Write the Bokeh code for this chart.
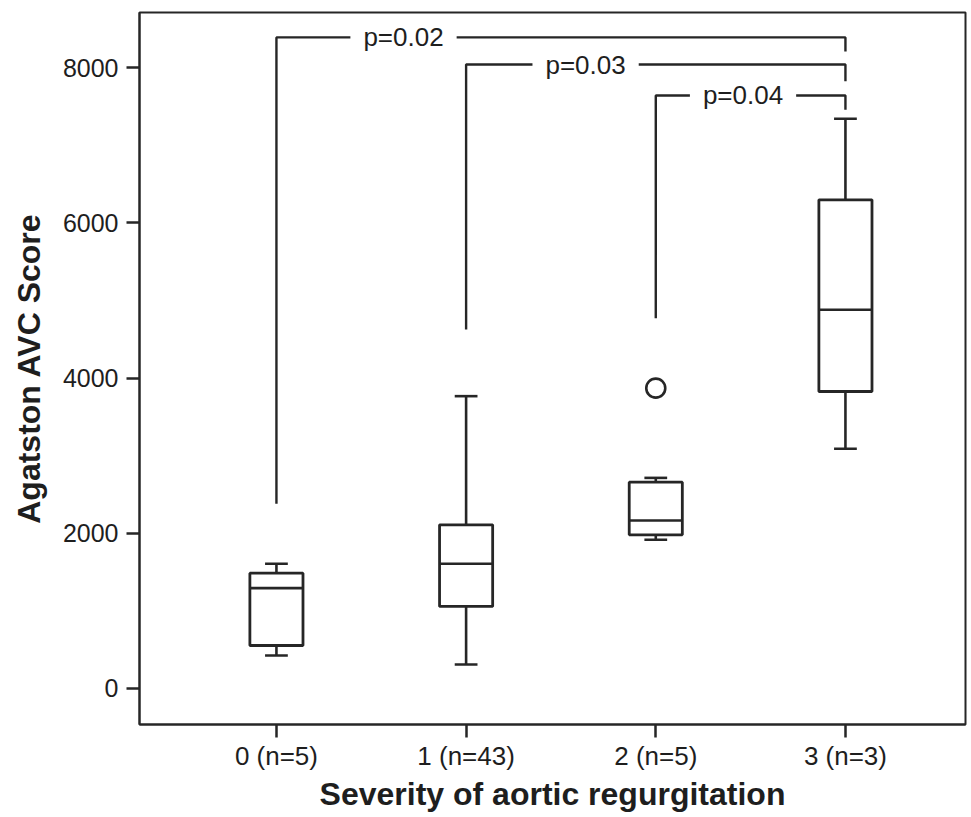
from bokeh.plotting import figure
from bokeh.models import Range1d, FixedTicker, Label, ColumnDataSource
from bokeh.embed import file_html
from bokeh.resources import INLINE

# ---- data ----
groups = [0, 1, 2, 3]
tick_labels = ["0 (n=5)", "1 (n=43)", "2 (n=5)", "3 (n=3)"]
whisk_low = [425, 309, 1916, 3089]
q1 = [554, 1057, 1980, 3827]
median = [1293, 1607, 2165, 4880]
q3 = [1486, 2109, 2659, 6297]
whisk_high = [1607, 3767, 2714, 7341]
outlier_x = [2]
outlier_y = [3870]

# significance brackets
br_left = [0, 1, 2]
br_right = [3, 3, 3]
br_left_foot = [2380, 4626, 4772]
br_height = [8390, 8040, 7642]
br_right_foot = [8210, 7826, 7457]
br_label = ["p=0.02", "p=0.03", "p=0.04"]
br_label_x = [0.67, 1.63, 2.46]

LINE = "#262626"
TEXT = "#1e1e1e"
FONT = "Liberation Sans"

p = figure(width=971, height=817, output_backend="svg", toolbar_location=None,
           x_range=Range1d(-0.722, 3.633), y_range=Range1d(-464, 8711),
           min_border_left=139, min_border_right=6, min_border_top=12, min_border_bottom=93)

p.grid.visible = False
p.outline_line_color = LINE
p.outline_line_width = 2
p.background_fill_color = "white"
p.border_fill_color = "white"

p.xaxis.ticker = FixedTicker(ticks=groups)
p.xaxis.major_label_overrides = {g: t for g, t in zip(groups, tick_labels)}
p.yaxis.ticker = FixedTicker(ticks=[0, 2000, 4000, 6000, 8000])
for ax in (p.xaxis[0], p.yaxis[0]):
    ax.axis_line_color = LINE
    ax.axis_line_width = 2
    ax.major_tick_line_color = LINE
    ax.major_tick_line_width = 2.5
    ax.major_tick_out = 13
    ax.major_tick_in = 0
    ax.minor_tick_line_color = None
    ax.major_label_text_font = FONT
    ax.major_label_text_color = TEXT
    ax.axis_label_text_font = FONT
    ax.axis_label_text_font_style = "bold"
    ax.axis_label_text_color = TEXT
    ax.axis_label_text_font_size = "32px"

p.xaxis.major_label_text_font_size = "26px"
p.yaxis.major_label_text_font_size = "25px"
p.xaxis.major_label_standoff = 3
p.xaxis.axis_label = "Severity of aortic regurgitation"
p.xaxis.axis_label_standoff = 2
p.yaxis.major_label_standoff = 8
p.yaxis.axis_label = "Agatston AVC Score"
p.yaxis.axis_label_standoff = 13

src = ColumnDataSource(dict(x=groups, lo=whisk_low, q1=q1, med=median, q3=q3, hi=whisk_high))
src.data["left"] = [g - 0.14 for g in groups]
src.data["right"] = [g + 0.14 for g in groups]
src.data["cl"] = [g - 0.06 for g in groups]
src.data["cr"] = [g + 0.06 for g in groups]

W = 2.6
p.segment(x0="x", y0="q3", x1="x", y1="hi", source=src, line_color=LINE, line_width=W)
p.segment(x0="x", y0="q1", x1="x", y1="lo", source=src, line_color=LINE, line_width=W)
p.segment(x0="cl", y0="hi", x1="cr", y1="hi", source=src, line_color=LINE, line_width=W)
p.segment(x0="cl", y0="lo", x1="cr", y1="lo", source=src, line_color=LINE, line_width=W)
p.quad(left="left", right="right", bottom="q1", top="q3", source=src,
       fill_color="white", line_color=LINE, line_width=2.8)
p.segment(x0="left", y0="med", x1="right", y1="med", source=src, line_color=LINE, line_width=W)
p.scatter(outlier_x, outlier_y, marker="circle", size=19, fill_color="white",
          line_color=LINE, line_width=2.6)

xs, ys = [], []
for l, r, lf, h, rf in zip(br_left, br_right, br_left_foot, br_height, br_right_foot):
    xs.append([l, l, r, r])
    ys.append([lf, h, h, rf])
p.multi_line(xs, ys, line_color=LINE, line_width=2.4)

for lx, h, lab in zip(br_label_x, br_height, br_label):
    p.add_layout(Label(x=lx, y=h, text=lab, text_align="center", text_baseline="middle",
                       text_font=FONT, text_font_size="26px", text_color=TEXT,
                       background_fill_color="white", padding=(13, 2)))

open("out.html", "w").write(file_html(p, INLINE))
